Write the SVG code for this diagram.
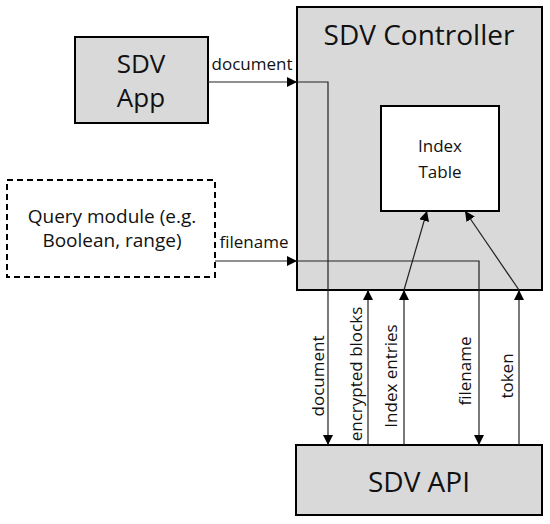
<svg xmlns="http://www.w3.org/2000/svg" width="550" height="524" viewBox="0 0 550 524">
<style>
.box{fill:#d9d9d9;stroke:#000;stroke-width:2}
.white{fill:#fff;stroke:#000;stroke-width:2}
.dash{fill:#fff;stroke:#000;stroke-width:2;stroke-dasharray:6,4}
.t{font-family:"Open Sans","DejaVu Sans",sans-serif;fill:#111;text-anchor:middle}
.big{font-size:28px}
.app{font-size:26px}
.mid{font-size:17px}
.q{font-size:19px}
.lab{font-size:17px}
.c{fill:none;stroke:#222;stroke-width:1.2}
</style>
<defs>
<marker id="arr" viewBox="0 0 10 10" refX="10" refY="5" markerWidth="10" markerHeight="10" markerUnits="userSpaceOnUse" orient="auto">
<path d="M0,0 L10,5 L0,10 z" fill="#000"/>
</marker>
</defs>
<rect width="550" height="524" fill="#fff"/>
<g id="sdv-controller">
<rect class="box" x="297" y="7" width="245" height="283"/>
<text class="t big" x="419" y="45">SDV Controller</text>
</g>
<g id="index-table">
<rect class="white" x="381" y="106" width="118" height="105"/>
<text class="t mid" x="440" y="152">Index</text>
<text class="t mid" x="440" y="178">Table</text>
</g>
<g id="sdv-app">
<rect class="box" x="75" y="37" width="133" height="86"/>
<text class="t app" x="141" y="73">SDV</text>
<text class="t app" x="141" y="107">App</text>
</g>
<g id="query-module">
<rect class="dash" x="7" y="180" width="208" height="97"/>
<text class="t q" x="112" y="223">Query module (e.g.</text>
<text class="t q" x="112" y="247">Boolean, range)</text>
</g>
<g id="sdv-api">
<rect class="box" x="296" y="445" width="246" height="70"/>
<text class="t big" x="419" y="492">SDV API</text>
</g>
<g id="connectors">
<line class="c" x1="208" y1="82" x2="297" y2="82" marker-end="url(#arr)"/>
<polyline class="c" points="297,82 328,82 328,445" marker-end="url(#arr)"/>
<line class="c" x1="215" y1="261" x2="297" y2="261" marker-end="url(#arr)"/>
<polyline class="c" points="297,261 479,261 479,445" marker-end="url(#arr)"/>
<line class="c" x1="368" y1="445" x2="368" y2="290" marker-end="url(#arr)"/>
<line class="c" x1="404" y1="445" x2="404" y2="290" marker-end="url(#arr)"/>
<line class="c" x1="404" y1="290" x2="427" y2="211" marker-end="url(#arr)"/>
<line class="c" x1="519" y1="445" x2="519" y2="290" marker-end="url(#arr)"/>
<line class="c" x1="519" y1="290" x2="465" y2="211" marker-end="url(#arr)"/>
<text class="t lab" x="252" y="70">document</text>
<text class="t lab" x="254" y="248">filename</text>
<text class="t lab" transform="translate(324,376) rotate(-90)">document</text>
<text class="t lab" transform="translate(362,374) rotate(-90)">encrypted blocks</text>
<text class="t lab" transform="translate(397,376) rotate(-90)">Index entries</text>
<text class="t lab" transform="translate(471,371) rotate(-90)">filename</text>
<text class="t lab" transform="translate(513,376) rotate(-90)">token</text>
</g>
</svg>
